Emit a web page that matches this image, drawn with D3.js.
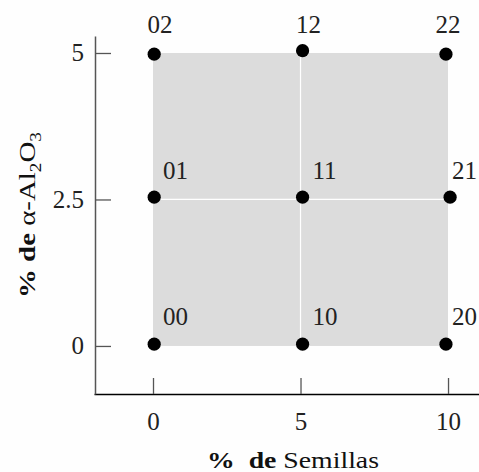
<!DOCTYPE html>
<html>
<head>
<meta charset="utf-8">
<script src="https://cdn.jsdelivr.net/npm/d3@7"></script>
<style>
  html, body { margin: 0; padding: 0; background: #fefefe; }
  svg { display: block; }
  text { font-family: "Liberation Serif", "Times New Roman", serif; }
</style>
</head>
<body>
<svg id="chart" width="479" height="472"></svg>
<script>
// Experimental design: seed content vs. alpha-alumina content
const sampleCodes = ["00", "01", "02", "10", "11", "12", "20", "21", "22"];
const seedPct     = [0.04, 0.04, 0.04, 5.07, 5.07, 5.07, 9.93, 10.07, 9.93];
const aluminaPct  = [0.03, 2.54, 4.98, 0.03, 2.54, 5.04, 0.03, 2.54, 4.98];

// Nominal levels of each factor (grid of the design)
const seedLevels    = [0, 5, 10];
const aluminaLevels = [0, 2.5, 5];

// Axis ticks and extents
const xTicks = [0, 5, 10];
const yTicks = [0, 2.5, 5];
const xTickLabels = ["0", "5", "10"];
const yTickLabels = ["0", "2.5", "5"];
const xExtent = [-2, 11.05];
const yExtent = [-0.82, 5.29];

const svg = d3.select("#chart");

const x = d3.scaleLinear().domain(xExtent).range([94, 479]);
const y = d3.scaleLinear().domain(yExtent).range([394, 36]);

// Shaded design region
svg.append("rect")
  .attr("x", x(seedLevels[0]))
  .attr("y", y(aluminaLevels[2]))
  .attr("width", x(seedLevels[2]) - x(seedLevels[0]))
  .attr("height", y(aluminaLevels[0]) - y(aluminaLevels[2]))
  .attr("fill", "#dcdcdc");

// Interior grid lines at the middle levels
svg.append("line")
  .attr("x1", x(seedLevels[1])).attr("x2", x(seedLevels[1]))
  .attr("y1", y(aluminaLevels[0])).attr("y2", y(aluminaLevels[2]))
  .attr("stroke", "#ffffff").attr("stroke-width", 1.2);
svg.append("line")
  .attr("x1", x(seedLevels[0])).attr("x2", x(seedLevels[2]))
  .attr("y1", y(aluminaLevels[1])).attr("y2", y(aluminaLevels[1]))
  .attr("stroke", "#ffffff").attr("stroke-width", 1.2);

// Axes with inward ticks
const xAxis = d3.axisBottom(x)
  .tickValues(xTicks)
  .tickFormat((d, i) => xTickLabels[i])
  .tickSizeInner(-16).tickSizeOuter(0).tickPadding(18);
const yAxis = d3.axisLeft(y)
  .tickValues(yTicks)
  .tickFormat((d, i) => yTickLabels[i])
  .tickSizeInner(-16).tickSizeOuter(0).tickPadding(11);

const gx = svg.append("g")
  .attr("transform", `translate(0,${y(yExtent[0])})`)
  .call(xAxis);
const gy = svg.append("g")
  .attr("transform", `translate(${x(xExtent[0]) + 1},0)`)
  .call(yAxis);

[gx, gy].forEach(g => {
  g.attr("font-family", null);
  g.selectAll("text")
    .attr("font-size", 25)
    .attr("fill", "#222");
  g.selectAll(".tick line").attr("stroke", "#555").attr("stroke-width", 1.3);
});
gx.select(".domain").attr("stroke", "#000").attr("stroke-width", 1.6);
gy.select(".domain").attr("stroke", "#555").attr("stroke-width", 1.5);

// Design points
const points = sampleCodes.map((code, i) => ({
  code,
  sx: seedPct[i],
  ay: aluminaPct[i],
  col: +code[0],
  row: +code[1]
}));

svg.append("g").selectAll("circle")
  .data(points)
  .join("circle")
  .attr("cx", d => x(d.sx))
  .attr("cy", d => y(d.ay))
  .attr("r", 6.6)
  .attr("fill", "#000");

// Point labels: top row centred above, others to the upper right
const topDx = [7, 8, 0];
const sideDx = [10, 12, 4];
svg.append("g").selectAll("text")
  .data(points)
  .join("text")
  .attr("x", d => x(seedLevels[d.col]) + (d.row === 2 ? topDx[d.col] : sideDx[d.col]))
  .attr("y", d => y(aluminaLevels[d.row]) - (d.row === 0 ? 21 : 20))
  .attr("text-anchor", d => d.row === 2 ? "middle" : "start")
  .attr("font-size", 25)
  .attr("fill", "#222")
  .text(d => d.code);

// Axis titles (wide book-style setting)
const xTitle = svg.append("text")
  .attr("x", 207).attr("y", 468)
  .attr("font-size", 23)
  .attr("fill", "#111")
  .attr("textLength", 172)
  .attr("lengthAdjust", "spacingAndGlyphs");
xTitle.append("tspan").attr("font-weight", "bold").text("%\u00a0\u00a0de ");
xTitle.append("tspan").text("Semillas");

const yTitle = svg.append("text")
  .attr("transform", "translate(35,298) rotate(-90)")
  .attr("font-size", 24)
  .attr("fill", "#111")
  .attr("textLength", 166)
  .attr("lengthAdjust", "spacingAndGlyphs");
yTitle.append("tspan").attr("font-weight", "bold").text("% de ");
yTitle.append("tspan").text("\u03b1-Al");
yTitle.append("tspan").attr("font-size", 16).attr("dy", 6).text("2");
yTitle.append("tspan").attr("dy", -6).text("O");
yTitle.append("tspan").attr("font-size", 16).attr("dy", 6).text("3");
</script>
</body>
</html>
